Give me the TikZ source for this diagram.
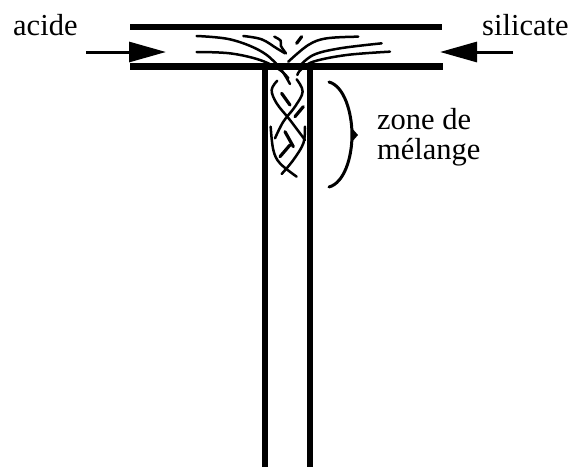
\documentclass[tikz,border=0pt]{standalone}
\usepackage{fontspec}
\setmainfont{Liberation Serif}
\usetikzlibrary{arrows.meta}
\tikzset{
  wall/.style={line width=6.5pt},
  tube/.style={line width=5.5pt},
  flow/.style={line width=3pt,-{Triangle[length=37pt,width=20pt]}},
  strand/.style={line width=2.5pt,line cap=round},
  thick strand/.style={line width=3.2pt,line cap=round},
  lbl/.style={inner sep=0pt,anchor=base west,font=\fontsize{30.5pt}{34pt}\selectfont},
}
\newcommand{\strandline}[1]{\draw[strand] plot[smooth,tension=0.6] coordinates {#1};}
\begin{document}
\begin{tikzpicture}[x=1pt,y=-1pt]
\useasboundingbox (0,0) rectangle (574,467);
\fill[white] (0,0) rectangle (574,467);
% labels
\node[lbl] (acide) at (13,35) {acide};
\node[lbl] (silicate) at (482,35) {silicate};
\node[lbl] (zone) at (377,129) {zone de};
\node[lbl] (melange) at (377,159) {mélange};
% channel
\coordinate (topL) at (130,27); \coordinate (topR) at (442,27);
\coordinate (lowL) at (130,66.7); \coordinate (lowR) at (443,66.7);
\coordinate (inL) at (265,66.7); \coordinate (inR) at (310,66.7);
\coordinate (botL) at (265,467); \coordinate (botR) at (310,467);
\draw[wall] (topL) -- (topR);
\draw[wall] (lowL) -- (lowR);
\draw[tube] (inL) -- (botL);
\draw[tube] (inR) -- (botR);
% arrows
\coordinate (a1) at (86,52); \coordinate (a2) at (166,52);
\coordinate (b1) at (513,52); \coordinate (b2) at (440,52);
\draw[flow] (a1) -- (a2);
\draw[flow] (b1) -- (b2);
% bracket
\coordinate (br1) at (329,82); \coordinate (br2) at (329,187); \coordinate (brtip) at (358,135);
\draw[line width=3pt,line cap=round] (br1) .. controls (344,86) and (352,112) .. (352,135) .. controls (352,158) and (344,183) .. (br2);
\fill (brtip) -- (351,127) -- (351,143) -- cycle;
% strands, measured on a 3x grid
\begin{scope}[shift={(180,10)},x=0.3333pt,y=-0.3333pt]
\strandline{(50,78) (150,88) (240,122) (295,168) (330,222)}
\strandline{(50,126) (150,130) (240,150) (300,180) (325,205)}
\strandline{(190,78) (245,88) (290,115) (315,130)}
\strandline{(283,80) (302,92) (303,108) (318,130)}
\strandline{(535,80) (440,85) (385,105) (325,155)}
\strandline{(605,100) (480,115) (400,135) (355,172)}
\strandline{(630,125) (500,135) (400,155) (362,180) (352,195)}
\strandline{(292,212) (275,240) (290,280) (330,330) (375,390)}
\strandline{(350,208) (368,245) (345,290) (310,335) (285,385)}
\strandline{(272,350) (280,420) (300,460) (350,500)}
\strandline{(375,350) (370,400) (340,450) (305,492)}
\draw[thick strand] (365,80) -- (350,100);
\draw[thick strand] (305,250) -- (330,285);
\draw[thick strand] (370,290) -- (345,320);
\draw[thick strand] (315,365) -- (340,410);
\draw[thick strand] (330,405) -- (300,440);
\end{scope}
\end{tikzpicture}
\end{document}
